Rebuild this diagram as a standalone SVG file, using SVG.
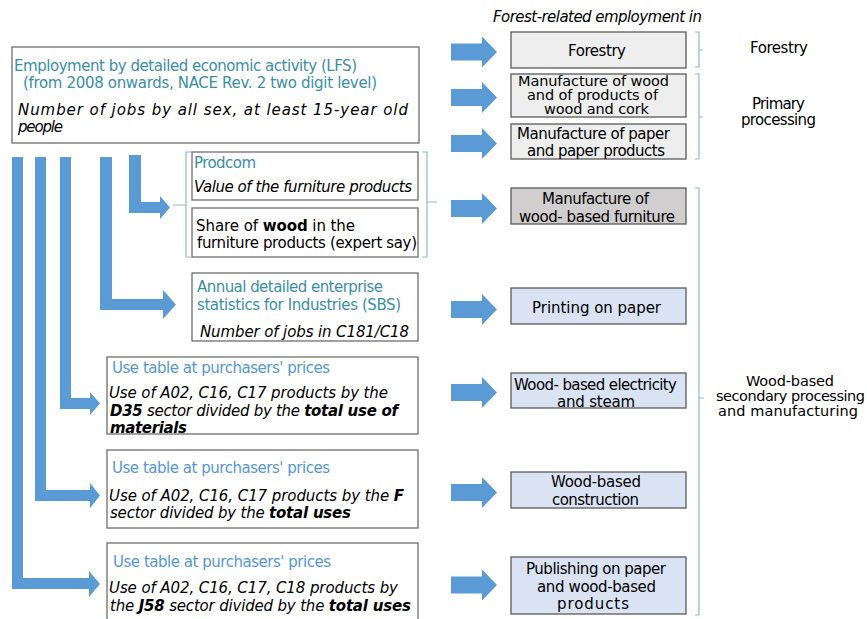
<svg xmlns="http://www.w3.org/2000/svg" xmlns:xlink="http://www.w3.org/1999/xlink" width="867" height="619" viewBox="0 0 867 619">
<style>
.t{font-family:"DejaVu Sans","Liberation Sans",sans-serif;font-size:15px;fill:#000}
.s{font-size:14.5px}
.i{font-style:italic}
.b{font-weight:bold}
.teal{fill:#3a8ea6}
.lb{fill:#5596d6}
.arrow{fill:#5b9bd5}
.box{fill:#fff;stroke:#6e6e6e;stroke-width:1.3}
.rbox{stroke:#5a5a5a;stroke-width:1.3}
.g1{fill:#eeeeee}
.g2{fill:#d0cece}
.bl{fill:#dae3f3}
.brace{fill:none;stroke:#8ab8e2;stroke-width:1.2}
</style>
<defs>
<path id="rarr" d="M0,-8.5 H31 V-15.5 L46,0 L31,15.5 V8.5 H0 Z"/>
</defs>
<rect width="867" height="619" fill="#fff"/>

<text class="t i" x="493" y="22" textLength="209">Forest-related employment in</text>

<g id="lfs">
<rect class="box" x="12" y="47" width="407" height="96"/>
<text class="t teal" x="14" y="71" textLength="343">Employment by detailed economic activity (LFS)</text>
<text class="t teal" x="23" y="88" textLength="354">(from 2008 onwards, NACE Rev. 2 two digit level)</text>
<text class="t i" x="18" y="115" textLength="390">Number of jobs by all sex, at least 15-year old</text>
<text class="t i" x="18" y="132" textLength="45">people</text>
</g>

<g id="prodcom">
<rect class="box" x="192" y="152" width="226" height="48"/>
<text class="t teal" x="194" y="168" textLength="62">Prodcom</text>
<text class="t i" x="194" y="192" textLength="218">Value of the furniture products</text>
</g>
<g id="share">
<rect class="box" x="192" y="208" width="226" height="49"/>
<text class="t" x="196" y="231" textLength="159">Share of <tspan class="b">wood</tspan> in the</text>
<text class="t" x="197" y="248" textLength="220">furniture products (expert say)</text>
</g>
<g id="sbs">
<rect class="box" x="192" y="273" width="226" height="68"/>
<text class="t teal" x="197" y="292" textLength="186">Annual detailed enterprise</text>
<text class="t teal" x="197" y="310" textLength="204">statistics for Industries (SBS)</text>
<text class="t i" x="200" y="337" textLength="209">Number of jobs in C181/C18</text>
</g>
<g id="use1">
<rect class="box" x="107" y="357" width="311" height="77"/>
<text class="t lb" x="112" y="373" textLength="218">Use table at purchasers' prices</text>
<text class="t i" x="109" y="398" textLength="279">Use of A02, C16, C17 products by the</text>
<text class="t i" x="110" y="416" textLength="288"><tspan class="b">D35</tspan> sector divided by the <tspan class="b">total use of</tspan></text>
<text class="t i b" x="110" y="433" textLength="77">materials</text>
</g>
<g id="use2">
<rect class="box" x="107" y="450" width="311" height="78"/>
<text class="t lb" x="112" y="473" textLength="218">Use table at purchasers' prices</text>
<text class="t i" x="109" y="501" textLength="295">Use of A02, C16, C17 products by the <tspan class="b">F</tspan></text>
<text class="t i" x="110" y="518" textLength="241">sector divided by the <tspan class="b">total uses</tspan></text>
</g>
<g id="use3">
<rect class="box" x="107" y="543" width="311" height="82"/>
<text class="t lb" x="113" y="567" textLength="218">Use table at purchasers' prices</text>
<text class="t i" x="109" y="593" textLength="289">Use of A02, C16, C17, C18 products by</text>
<text class="t i" x="110" y="611" textLength="301">the <tspan class="b">J58</tspan> sector divided by the <tspan class="b">total uses</tspan></text>
</g>

<g id="forestry">
<rect class="rbox g1" x="511" y="32" width="175" height="36"/>
<text class="t" x="568" y="56" textLength="58">Forestry</text>
</g>
<g id="wood">
<rect class="rbox g1" x="511" y="74" width="175" height="43"/>
<text class="t s" x="518" y="86" textLength="151">Manufacture of wood</text>
<text class="t s" x="527" y="100" textLength="131">and of products of</text>
<text class="t s" x="544" y="114" textLength="105">wood and cork</text>
</g>
<g id="paper">
<rect class="rbox g1" x="511" y="124" width="175" height="35"/>
<text class="t" x="517" y="139" textLength="153">Manufacture of paper</text>
<text class="t" x="527" y="156" textLength="138">and paper products</text>
</g>
<g id="furniture">
<rect class="rbox g2" x="511" y="188" width="175" height="36"/>
<text class="t" x="542" y="204" textLength="107">Manufacture of</text>
<text class="t" x="519" y="222" textLength="156">wood- based furniture</text>
</g>
<g id="printing">
<rect class="rbox bl" x="511" y="288" width="175" height="36"/>
<text class="t" x="532" y="313" textLength="129">Printing on paper</text>
</g>
<g id="electricity">
<rect class="rbox bl" x="511" y="373" width="175" height="35"/>
<text class="t" x="514" y="390" textLength="163">Wood- based electricity</text>
<text class="t" x="557" y="407" textLength="78">and steam</text>
</g>
<g id="construction">
<rect class="rbox bl" x="511" y="472" width="175" height="36"/>
<text class="t" x="551" y="487" textLength="90">Wood-based</text>
<text class="t" x="552" y="505" textLength="87">construction</text>
</g>
<g id="publishing">
<rect class="rbox bl" x="511" y="557" width="175" height="57"/>
<text class="t" x="526" y="574" textLength="140">Publishing on paper</text>
<text class="t" x="537" y="592" textLength="119">and wood-based</text>
<text class="t" x="557" y="609" textLength="72">products</text>
</g>

<g id="braces">
<path class="brace" d="M695,32 H699 V67 H695 M699,50 H703"/>
<path class="brace" d="M695,74 H699 V159 H695 M699,117 H703"/>
<path class="brace" d="M695,188 H699 V615 H695 M699,398 H704"/>
<path class="brace" d="M192,152 H186 V257 H192 M186,205 H173"/>
<path class="brace" d="M422,152 H427 V257 H422 M427,202 H437"/>
</g>

<g id="labels">
<text class="t" x="750" y="53" textLength="58">Forestry</text>
<text class="t" x="752" y="109" textLength="53">Primary</text>
<text class="t" x="741" y="125" textLength="75">processing</text>
<text class="t s" x="746" y="386" textLength="88">Wood-based</text>
<text class="t s" x="716" y="401" textLength="149">secondary processing</text>
<text class="t s" x="718" y="416" textLength="140">and manufacturing</text>
</g>

<g id="connectors" class="arrow">
<use xlink:href="#rarr" x="451" y="52"/>
<use xlink:href="#rarr" x="451" y="97.5"/>
<use xlink:href="#rarr" x="451" y="143.5"/>
<use xlink:href="#rarr" x="451" y="208.5"/>
<use xlink:href="#rarr" x="451" y="309.5"/>
<use xlink:href="#rarr" x="451" y="392.5"/>
<use xlink:href="#rarr" x="451" y="492.5"/>
<use xlink:href="#rarr" x="451" y="585"/>
<path d="M12,157 H23 V578 H89 V571 L100,584 L89,597 V589 H12 Z"/>
<path d="M35,157 H46 V490 H90 V483 L100,495.5 L90,508 V501 H35 Z"/>
<path d="M60,157 H71 V398 H90 V392 L100,403.5 L90,415 V409 H60 Z"/>
<path d="M100,157 H112 V299 H163 V290 L176,304.5 L163,319 V310 H100 Z"/>
<path d="M129,155 H141 V202 H160 V196 L170,207.5 L160,219 V213 H129 Z"/>
</g>
</svg>
